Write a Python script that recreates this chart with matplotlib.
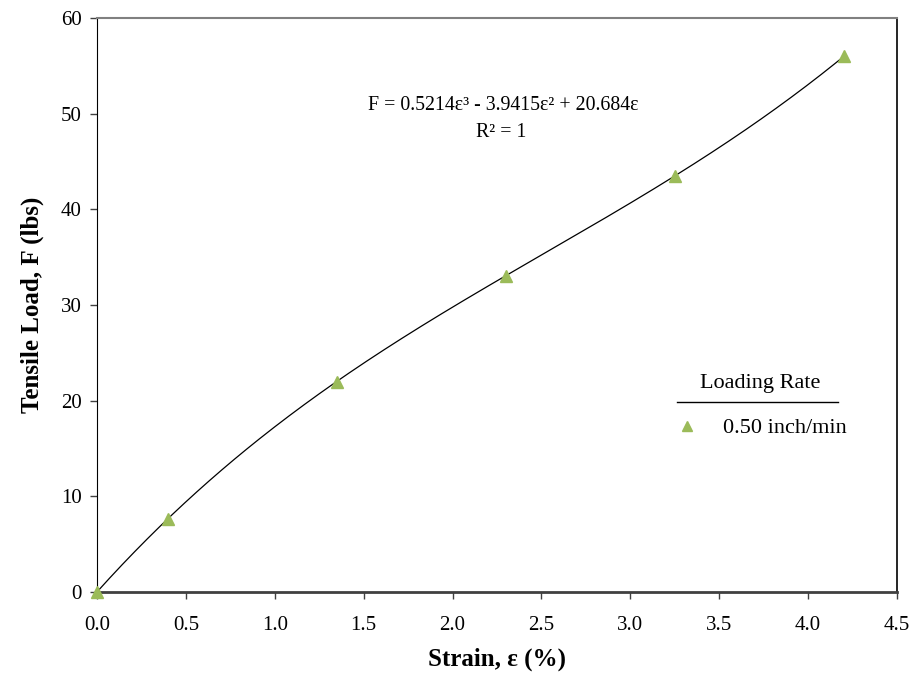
import numpy as np
import matplotlib
matplotlib.use("Agg")
import matplotlib.pyplot as plt
from matplotlib.lines import Line2D

# measured points (strain %, load lbs)
strain = [0.0, 0.4, 1.35, 2.3, 3.25, 4.2]
load = [0.0, 7.6, 22.0, 33.0, 43.5, 56.0]
# trendline coefficients shown on the chart (cubic, zero intercept)
fit_coef = [0.5214, -3.9415, 20.684, 0.0]
series_label = "0.50 inch/min"
x_ticks = [0.0, 0.5, 1.0, 1.5, 2.0, 2.5, 3.0, 3.5, 4.0, 4.5]
y_ticks = [0, 10, 20, 30, 40, 50, 60]

plt.rcParams['font.family'] = ['Liberation Serif', 'DejaVu Serif']

fig = plt.figure(figsize=(9.14, 6.74), dpi=100)
ax = fig.add_axes([0.1061, 0.1217, 0.8753, 0.8516])

# trendline
xs = np.linspace(strain[0], strain[-1], 300)
ax.plot(xs, np.polyval(fit_coef, xs), color="black", lw=0.9, zorder=2)
ax.plot(strain, load, linestyle="none", marker="^", ms=8, color="#9BBB59",
        label=series_label, zorder=3, clip_on=False)

ax.set_xlim(0, 4.5)
ax.set_ylim(0, 60)
ax.set_xticks(x_ticks)
ax.set_xticklabels([f"{v:.1f}" for v in x_ticks])
ax.set_yticks(y_ticks)
ax.tick_params(axis="both", direction="out", length=5, width=1, labelsize=15,
               top=False, right=False, color="#404040")
ax.tick_params(axis="x", pad=12)
ax.tick_params(axis="y", pad=6)

ax.spines["bottom"].set_color("#404040")
ax.spines["bottom"].set_linewidth(2)
ax.spines["left"].set_color("black")
ax.spines["right"].set_color("black")
ax.spines["right"].set_linewidth(1.2)
ax.spines["top"].set_color("#808080")
ax.spines["top"].set_linewidth(1.5)

ax.set_xlabel("Strain, ε (%)", fontsize=18, fontweight="bold", labelpad=9)
ax.set_ylabel("Tensile Load, F (lbs)", fontsize=18, fontweight="bold", labelpad=12)

ax.text(0.5075, 0.847, "F = 0.5214ε³ - 3.9415ε² + 20.684ε", transform=ax.transAxes,
        ha="center", va="center", fontsize=14.3)
ax.text(0.505, 0.801, "R² = 1", transform=ax.transAxes,
        ha="center", va="center", fontsize=14.3)

leg = ax.legend(loc="center", bbox_to_anchor=(0.829, 0.324), frameon=False,
                title="Loading Rate", fontsize=16, title_fontsize=16,
                handletextpad=1.0, handlelength=1.2, markerscale=0.85,
                borderpad=0.0, labelspacing=0.3)
leg._legend_box.sep = 18
ax.add_line(Line2D([0.725, 0.926], [0.331, 0.331], transform=ax.transAxes,
                   color="black", lw=1))

fig.savefig("out.png", dpi=100)
